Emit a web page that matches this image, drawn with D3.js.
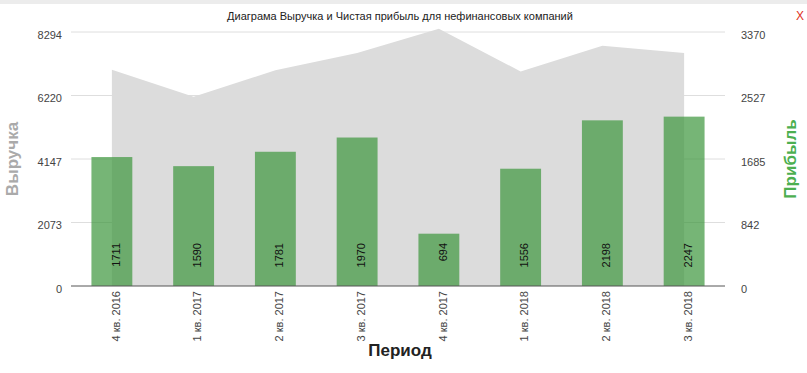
<!DOCTYPE html>
<html>
<head>
<meta charset="utf-8">
<script src="https://cdn.jsdelivr.net/npm/d3@7"></script>
<style>
  body { margin: 0; background: #fff; font-family: Arial, "Liberation Sans", sans-serif; }
  svg { display: block; }
</style>
</head>
<body>
<svg id="chart"></svg>
<script>
// data
const periods = ["4 кв. 2016", "1 кв. 2017", "2 кв. 2017", "3 кв. 2017", "4 кв. 2017", "1 кв. 2018", "2 кв. 2018", "3 кв. 2018"]
const revenue = [7061, 6178, 7045, 7607, 8402, 7005, 7846, 7607]
const profit = [1711, 1590, 1781, 1970, 694, 1556, 2198, 2247]
const revenueTicks = [0, 2073, 4147, 6220, 8294]
const profitTicks = [0, 842, 1685, 2527, 3370]

const W = 807, H = 373
const margin = { top: 32, right: 82, bottom: 87, left: 71 }
const width = W - margin.left - margin.right
const height = H - margin.top - margin.bottom

const svg = d3.select("#chart").attr("width", W).attr("height", H)

// thin grey strip across the top
svg.append("rect").attr("x", 0).attr("y", 0).attr("width", W).attr("height", 4).attr("fill", "#ececec")

svg.append("text")
    .attr("x", 400).attr("y", 20)
    .attr("text-anchor", "middle")
    .attr("font-size", "11px")
    .attr("fill", "#222")
    .text("Диаграма Выручка и Чистая прибыль для нефинансовых компаний")

svg.append("text")
    .attr("x", 800).attr("y", 20)
    .attr("text-anchor", "middle")
    .attr("font-size", "12px")
    .attr("fill", "#e0321e")
    .text("X")

const g = svg.append("g").attr("transform", `translate(${margin.left},${margin.top})`)

// scales
const xScale = d3.scaleBand().domain(periods).range([0, width]).paddingInner(0.5).paddingOuter(0.25)
const yLeft = d3.scaleLinear().domain([0, 8294]).range([height, 0])
const yRight = d3.scaleLinear().domain([0, 3370]).range([height, 0])
const cx = d => xScale(d) + xScale.bandwidth() / 2

// gridlines
g.append("g").selectAll("line")
    .data(revenueTicks.slice(1))
    .enter().append("line")
        .attr("x1", 0).attr("x2", width)
        .attr("y1", d => yLeft(d)).attr("y2", d => yLeft(d))
        .attr("stroke", "#dedede")

// revenue area
const area = d3.area()
    .x((d, i) => cx(periods[i]))
    .y0(yLeft(0))
    .y1(d => yLeft(d))

g.append("path")
    .datum(revenue)
    .attr("d", area)
    .attr("fill", "#dcdcdc")

// profit bars
g.append("g").selectAll("rect")
    .data(profit)
    .enter().append("rect")
        .attr("x", (d, i) => xScale(periods[i]))
        .attr("y", d => yRight(d))
        .attr("width", xScale.bandwidth())
        .attr("height", d => yRight(0) - yRight(d))
        .attr("fill", "rgb(60,150,60)")
        .attr("fill-opacity", 0.7)

// value labels inside bars
g.append("g").selectAll("text")
    .data(profit)
    .enter().append("text")
        .attr("transform", (d, i) => `translate(${cx(periods[i]) + 4},${yLeft(0) - 43}) rotate(-90)`)
        .attr("text-anchor", "end")
        .attr("dy", "0.35em")
        .attr("font-size", "11px")
        .attr("fill", "#111")
        .text(d => d)

// baseline
g.append("line")
    .attr("x1", 0).attr("x2", width)
    .attr("y1", yLeft(0)).attr("y2", yLeft(0))
    .attr("stroke", "#555")

// left axis
const yAxisLeft = d3.axisLeft(yLeft).tickValues(revenueTicks).tickSize(0).tickPadding(9).tickFormat(d3.format("d"))
g.append("g").call(yAxisLeft)
    .call(s => s.select(".domain").remove())
    .selectAll("text")
        .attr("font-size", "11px")
        .attr("font-family", "Arial, 'Liberation Sans', sans-serif")
        .attr("fill", "#444")
        .attr("dy", "0.55em")

// right axis
const yAxisRight = d3.axisRight(yRight).tickValues(profitTicks).tickSize(0).tickPadding(16).tickFormat(d3.format("d"))
g.append("g").attr("transform", `translate(${width},0)`).call(yAxisRight)
    .call(s => s.select(".domain").remove())
    .selectAll("text")
        .attr("font-size", "11px")
        .attr("font-family", "Arial, 'Liberation Sans', sans-serif")
        .attr("fill", "#444")
        .attr("dy", "0.55em")

// x labels
g.append("g").selectAll("text")
    .data(periods)
    .enter().append("text")
        .attr("transform", d => `translate(${cx(d) + 4},${yLeft(0) + 5}) rotate(-90)`)
        .attr("text-anchor", "end")
        .attr("dy", "0.35em")
        .attr("font-size", "11px")
        .attr("fill", "#444")
        .text(d => d)

// axis titles
svg.append("text")
    .attr("transform", "translate(18,159) rotate(-90)")
    .attr("text-anchor", "middle")
    .attr("font-size", "17px")
    .attr("font-weight", "bold")
    .attr("fill", "#aaaaaa")
    .text("Выручка")

svg.append("text")
    .attr("transform", "translate(796,159) rotate(-90)")
    .attr("text-anchor", "middle")
    .attr("font-size", "17px")
    .attr("font-weight", "bold")
    .attr("fill", "#4caf50")
    .text("Прибыль")

svg.append("text")
    .attr("x", 400).attr("y", 356)
    .attr("text-anchor", "middle")
    .attr("font-size", "17px")
    .attr("font-weight", "bold")
    .attr("fill", "#222")
    .text("Период")
</script>
</body>
</html>
